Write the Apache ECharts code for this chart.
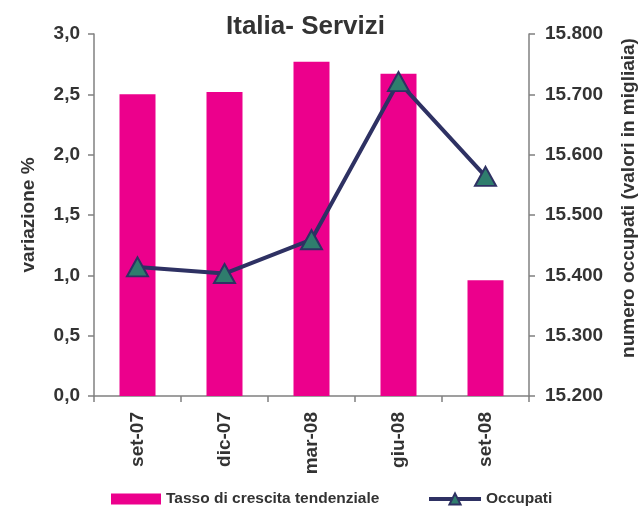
<!DOCTYPE html>
<html>
<head>
<meta charset="utf-8">
<script src="https://cdn.jsdelivr.net/npm/echarts@6/dist/echarts.min.js"></script>
<style>
  html, body { margin: 0; padding: 0; background: #fff; }
  #main { width: 641px; height: 506px; }
</style>
</head>
<body>
<div id="main"></div>
<script>
// dati
const categories = ['set-07', 'dic-07', 'mar-08', 'giu-08', 'set-08'];
const tasso = [2.50, 2.52, 2.77, 2.67, 0.96];          // variazione %
const occupati = [15414, 15403, 15459, 15721, 15564];  // migliaia

const font = 'Liberation Sans, Arial, sans-serif';
const txt = '#333333';
const axisCol = '#808080';

const chart = echarts.init(document.getElementById('main'));

const option = {
    backgroundColor: '#ffffff',
    animation: false,
    title: {
        text: 'Italia- Servizi',
        left: 221,
        top: 9,
        textStyle: { fontFamily: font, fontSize: 26, fontWeight: 'bold', color: txt }
    },
    grid: {
        left: 94,   // distanza dai bordi
        right: 112,
        top: 34,
        bottom: 110,
        outerBoundsMode: 'none'
    },
    legend: [{
        data: ['Tasso di crescita tendenziale'],
        icon: 'rect',
        left: 111,
        top: 491,
        padding: 0,
        itemWidth: 50,
        itemHeight: 11,
        textStyle: { fontFamily: font, fontSize: 15.5, fontWeight: 'bold', color: txt }
    }, {
        data: ['Occupati'],
        left: 427,
        top: 491,
        padding: 0,
        itemWidth: 52,
        itemHeight: 14,
        lineStyle: { width: 4 },
        textStyle: { fontFamily: font, fontSize: 15.5, fontWeight: 'bold', color: txt }
    }],
    xAxis: {
        type: 'category',
        data: categories,
        axisLine: { lineStyle: { color: axisCol, width: 1.5 } },
        axisTick: { show: true, length: 6, lineStyle: { color: axisCol, width: 1.5 } },
        axisLabel: {
            rotate: 90,
            margin: 16,
            fontFamily: font, fontSize: 19, fontWeight: 'bold', color: txt
        }
    },
    yAxis: [{
        type: 'value',
        min: 0,
        max: 3,
        interval: 0.5,
        name: 'variazione %',
        nameLocation: 'middle',
        nameRotate: 90,
        nameGap: 56,
        nameTextStyle: { fontFamily: font, fontSize: 19, fontWeight: 'bold', color: txt },
        splitLine: { show: false },
        axisLine: { show: true, lineStyle: { color: axisCol, width: 1.5 } },
        axisTick: { show: true, length: 6, lineStyle: { color: axisCol, width: 1.5 } },
        axisLabel: {
            margin: 14,
            fontFamily: font, fontSize: 19, fontWeight: 'bold', color: txt,
            formatter: v => v.toFixed(1).replace('.', ',')
        }
    }, {
        type: 'value',
        position: 'right',
        min: 15200,
        max: 15800,
        interval: 100,
        name: 'numero occupati (valori in migliaia)',
        nameLocation: 'middle',
        nameRotate: 90,
        nameGap: 90,
        nameTextStyle: {
            fontFamily: font, fontSize: 19, fontWeight: 'bold', color: txt,
            padding: [0, 0, 0, 34]
        },
        splitLine: { show: false },
        axisLine: { show: true, lineStyle: { color: axisCol, width: 1.5 } },
        axisTick: { show: true, length: 6, lineStyle: { color: axisCol, width: 1.5 } },
        axisLabel: {
            margin: 16,
            fontFamily: font, fontSize: 19, fontWeight: 'bold', color: txt,
            formatter: v => String(v).replace(/\B(?=(\d{3})+(?!\d))/g, '.')
        }
    }],
    series: [{
        name: 'Tasso di crescita tendenziale',
        type: 'bar',
        yAxisIndex: 0,
        data: tasso,
        barWidth: 36,
        itemStyle: { color: '#ec008c' }
    }, {
        name: 'Occupati',
        type: 'line',
        yAxisIndex: 1,
        data: occupati,
        symbol: 'triangle',
        symbolSize: [21, 19],
        lineStyle: { color: '#2e3163', width: 4 },
        itemStyle: { color: '#2f7d6d', borderColor: '#2e3163', borderWidth: 2 }
    }]
};

chart.setOption(option);
</script>
</body>
</html>
